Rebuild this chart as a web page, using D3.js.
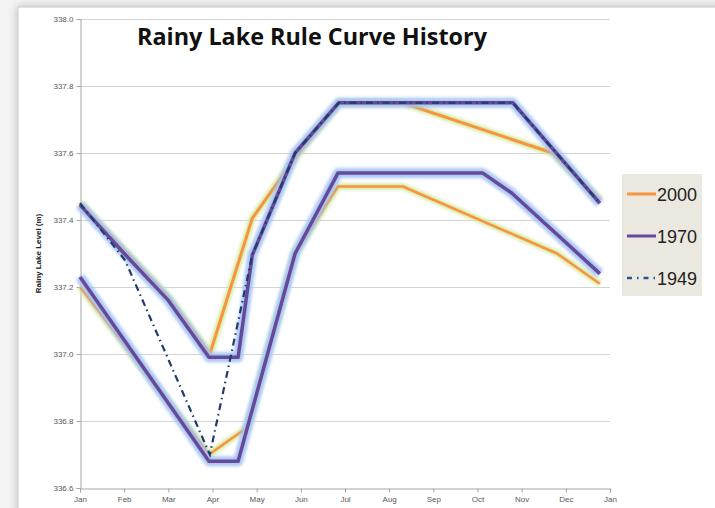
<!DOCTYPE html>
<html>
<head>
<meta charset="utf-8">
<script src="https://cdn.jsdelivr.net/npm/d3@7"></script>
<style>
  html, body { margin: 0; padding: 0; background: #f4f4f4; }
  svg { display: block; }
</style>
</head>
<body>
<svg id="chart" width="715" height="508"></svg>
<script>
// ---- DATA (x = month position, 0 = Jan 1, 12 = next Jan 1) ----
const monthLabels = ["Jan","Feb","Mar","Apr","May","Jun","Jul","Aug","Sep","Oct","Nov","Dec","Jan"];
const yTicks = [336.6, 336.8, 337.0, 337.2, 337.4, 337.6, 337.8, 338.0];

const s2000UpperX = [0, 1, 2, 2.94, 3.9, 4.95, 5.86, 7.3, 10.7, 11.77];
const s2000UpperY = [337.45, 337.31, 337.17, 337.00, 337.405, 337.60, 337.75, 337.75, 337.60, 337.46];
const s2000LowerX = [0, 2.92, 3.78, 4.87, 5.84, 7.31, 10.8, 11.77];
const s2000LowerY = [337.20, 336.70, 336.78, 337.30, 337.50, 337.50, 337.30, 337.21];

const s1970UpperX = [0, 1, 2, 2.92, 3.58, 3.9, 4.87, 5.86, 9.8, 11.77];
const s1970UpperY = [337.445, 337.30, 337.16, 336.99, 336.99, 337.295, 337.60, 337.75, 337.75, 337.45];
const s1970LowerX = [0, 2.92, 3.58, 4.87, 5.84, 9.12, 9.78, 11.77];
const s1970LowerY = [337.23, 336.68, 336.68, 337.30, 337.54, 337.54, 337.48, 337.24];

const s1949X = [0, 1.02, 2.94, 3.9, 4.87, 5.86, 9.8, 11.77];
const s1949Y = [337.45, 337.28, 336.70, 337.295, 337.60, 337.75, 337.75, 337.45];

const legendNames = ["2000", "1970", "1949"];

// ---- CHART ----
const svg = d3.select("#chart");
const defs = svg.append("defs");
defs.append("filter").attr("id", "shadow").attr("x", "-10%").attr("y", "-10%").attr("width", "130%").attr("height", "130%")
  .append("feDropShadow").attr("dx", 0).attr("dy", 0).attr("stdDeviation", 5)
  .attr("flood-color", "#000").attr("flood-opacity", 0.25);
defs.append("filter").attr("id", "glow").attr("x", "-5%").attr("y", "-5%").attr("width", "110%").attr("height", "110%")
  .append("feGaussianBlur").attr("stdDeviation", 1.5);

// chart frame
svg.append("rect").attr("x", 18).attr("y", 7).attr("width", 720).attr("height", 520)
  .attr("fill", "#fff").attr("stroke", "#c8c8c8").attr("stroke-width", 1)
  .attr("filter", "url(#shadow)");

const x = d3.scaleLinear().domain([0, 12]).range([80, 610]);
const y = d3.scaleLinear().domain([336.6, 338.0]).range([488, 19]);

// gridlines
svg.append("g").selectAll("line").data(yTicks.slice(1)).join("line")
  .attr("x1", x(0)).attr("x2", x(12))
  .attr("y1", d => Math.round(y(d)) + 0.5).attr("y2", d => Math.round(y(d)) + 0.5)
  .attr("stroke", "#d4d4d4").attr("stroke-width", 1);

// y axis
const yAxis = d3.axisLeft(y).tickValues(yTicks).tickFormat(d3.format(".1f")).tickSize(4).tickPadding(3);
const gy = svg.append("g").attr("transform", `translate(${x(0) + 0.5},0)`).call(yAxis);
gy.select(".domain").attr("stroke", "#a6a6a6");
gy.selectAll(".tick line").attr("stroke", "#a6a6a6");
gy.selectAll("text").attr("font-family", "Liberation Sans, Arial, sans-serif").attr("font-size", 8).attr("fill", "#595959");

// x axis
const xAxis = d3.axisBottom(x).tickValues(d3.range(13)).tickFormat(i => monthLabels[i]).tickSize(4).tickPadding(4);
const gx = svg.append("g").attr("transform", `translate(0,${y(336.6) + 0.5})`).call(xAxis);
gx.select(".domain").attr("stroke", "#a6a6a6");
gx.selectAll(".tick line").attr("stroke", "#a6a6a6");
gx.selectAll("text").attr("font-family", "Liberation Sans, Arial, sans-serif").attr("font-size", 8).attr("fill", "#595959");

// y axis title
svg.append("text").attr("transform", `translate(41,${(y(336.6) + y(338.0)) / 2}) rotate(-90)`)
  .attr("text-anchor", "middle").attr("font-family", "Liberation Sans, Arial, sans-serif")
  .attr("font-weight", "bold").attr("font-size", 8).attr("fill", "#222")
  .text("Rainy Lake Level (m)");

// title
const title = svg.append("text").attr("x", 312).attr("y", 45).attr("text-anchor", "middle")
  .attr("font-family", "Open Sans, Liberation Sans, sans-serif").attr("font-weight", "bold")
  .attr("font-size", 22).attr("fill", "#111").text("Rainy Lake Rule Curve History");
const tw = title.node().getComputedTextLength();
title.attr("font-size", 22 * 350 / tw);

// lines
const line = d3.line().x(d => x(d[0])).y(d => y(d[1]));
const zipXY = (xs, ys) => xs.map((v, i) => [v, ys[i]]);

const orange = "#f7953e", purple = "#65499d", navy = "#1f3c6b";

function drawGlowLine(data, color, width, glowColor, glowWidth) {
  svg.append("path").datum(data).attr("d", line).attr("fill", "none")
    .attr("stroke", glowColor).attr("stroke-width", glowWidth).attr("stroke-linejoin", "round")
    .attr("stroke-opacity", 0.9).attr("filter", "url(#glow)");
  svg.append("path").datum(data).attr("d", line).attr("fill", "none")
    .attr("stroke", color).attr("stroke-width", width).attr("stroke-linejoin", "round");
}

drawGlowLine(zipXY(s2000UpperX, s2000UpperY), orange, 3, "#d2e89c", 7);
drawGlowLine(zipXY(s2000LowerX, s2000LowerY), orange, 2.5, "#d2e89c", 6.5);
drawGlowLine(zipXY(s1970UpperX, s1970UpperY), purple, 3.5, "#a3c2ef", 10);
drawGlowLine(zipXY(s1970LowerX, s1970LowerY), purple, 3.5, "#a3c2ef", 10);

svg.append("path").datum(zipXY(s1949X, s1949Y)).attr("d", line).attr("fill", "none")
  .attr("stroke", navy).attr("stroke-width", 2.2).attr("stroke-dasharray", "7,4,1.5,4");

// legend
const lg = svg.append("g");
lg.append("rect").attr("x", 622).attr("y", 174).attr("width", 80).attr("height", 122).attr("fill", "#ebe8e0");
const legStyles = [
  { color: orange, width: 3, dash: null },
  { color: purple, width: 3, dash: null },
  { color: "#2e5589", width: 2.5, dash: "5,5,1.5,5" }
];
legendNames.forEach((name, i) => {
  const ly = 194 + i * 42;
  lg.append("line").attr("x1", 627).attr("x2", 656).attr("y1", ly).attr("y2", ly)
    .attr("stroke", legStyles[i].color).attr("stroke-width", legStyles[i].width)
    .attr("stroke-dasharray", legStyles[i].dash);
  lg.append("text").attr("x", 657).attr("y", ly + 7).attr("font-family", "Liberation Sans, Arial, sans-serif")
    .attr("font-size", 18).attr("fill", "#222").text(name);
});
</script>
</body>
</html>
